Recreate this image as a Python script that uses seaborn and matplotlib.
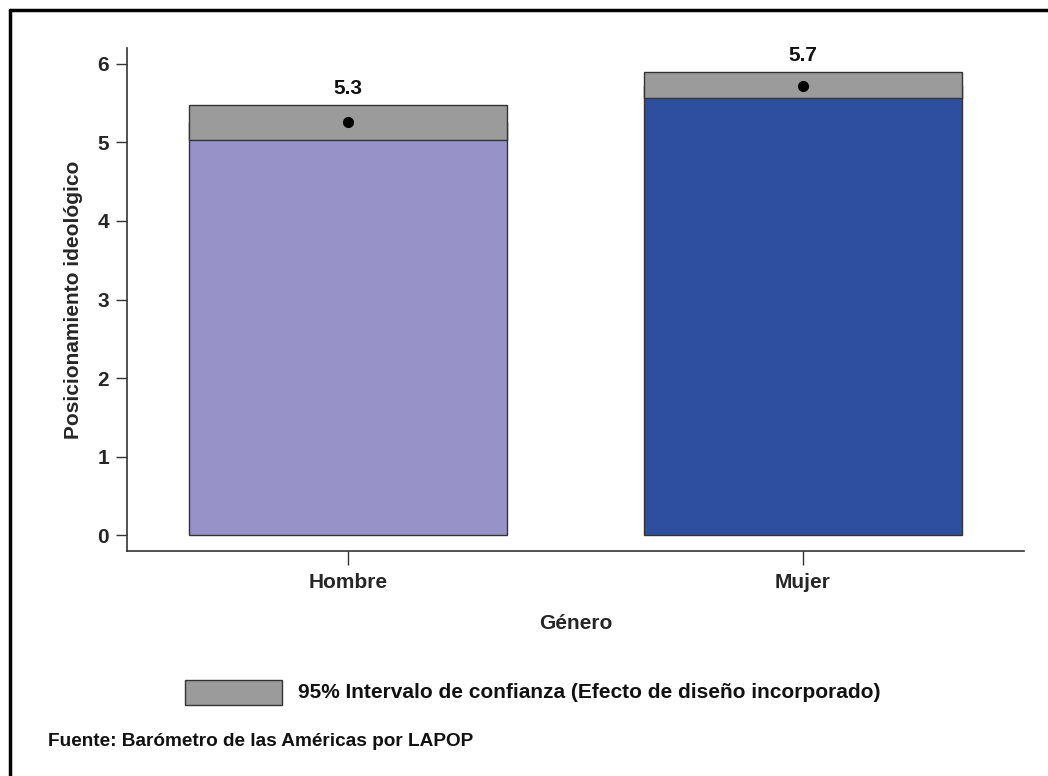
import matplotlib
matplotlib.use("Agg")
import matplotlib.pyplot as plt
import seaborn as sns
import pandas as pd
from matplotlib.patches import Rectangle
from matplotlib.lines import Line2D

# Data
categories = ["Hombre", "Mujer"]
means = [5.26, 5.72]
ci_low = [5.03, 5.56]
ci_high = [5.48, 5.89]
value_labels = ["5.3", "5.7"]
bar_colors = ["#9793C8", "#2E4E9F"]

sns.set_theme(style="white")
plt.rcParams["font.family"] = ["Liberation Sans", "DejaVu Sans"]
plt.rcParams["font.weight"] = "bold"

FS = 15

fig = plt.figure(figsize=(10.48, 7.76), dpi=100)
ax = fig.add_axes([127/1048, 1-551/776, (1024-127)/1048, (551-48)/776])

df = pd.DataFrame({"Género": categories, "valor": means})
sns.barplot(data=df, x="Género", y="valor", hue="Género", palette=bar_colors,
            saturation=1, width=0.7, edgecolor="#333333", linewidth=1.0,
            legend=False, ax=ax, errorbar=None)

for i in range(len(categories)):
    ax.add_patch(Rectangle((i - 0.35, ci_low[i]), 0.7, ci_high[i] - ci_low[i],
                           facecolor="#9B9B9B", edgecolor="#333333", linewidth=1.0, zorder=3))
    ax.plot([i], [means[i]], "o", color="black", markersize=7, zorder=4)
    ax.annotate(value_labels[i], (i, ci_high[i]), xytext=(0, 5), textcoords="offset points",
                ha="center", va="bottom", fontsize=FS, fontweight="bold", color="#111111")

ax.set_xlim(-0.486, 1.486)
ax.set_ylim(-0.2, 6.2)
ax.set_yticks(range(0, 7))
ax.set_ylabel("Posicionamiento ideológico", fontsize=FS, fontweight="bold", labelpad=10)
ax.set_xlabel("Género", fontsize=FS, fontweight="bold", labelpad=16)
for s in ["top", "right"]:
    ax.spines[s].set_visible(False)
for s in ["left", "bottom"]:
    ax.spines[s].set_color("#333333")
    ax.spines[s].set_linewidth(1.2)
ax.tick_params(axis="both", which="both", direction="out", length=8, width=1.0,
               color="#333333", labelsize=FS, pad=5)
ax.tick_params(axis="x", length=10, pad=6)
ax.tick_params(left=True, bottom=True)
for lbl in ax.get_xticklabels() + ax.get_yticklabels():
    lbl.set_fontweight("bold")

# Legend
fig.patches.append(Rectangle((185/1048, 1-705/776), 97/1048, 25/776, transform=fig.transFigure,
                             facecolor="#9B9B9B", edgecolor="#333333", linewidth=1.0))
fig.text(298/1048, 1-693/776, "95% Intervalo de confianza (Efecto de diseño incorporado)",
         fontsize=FS, fontweight="bold", va="center", ha="left", color="#111111")
fig.text(48/1048, 1-741/776, "Fuente: Barómetro de las Américas por LAPOP",
         fontsize=13.7, fontweight="bold", va="center", ha="left", color="#111111")

# Outer frame (left and top)
fig.lines.append(Line2D([10/1048, 10/1048], [0, 1-10/776], transform=fig.transFigure,
                        color="black", linewidth=2.5))
fig.lines.append(Line2D([10/1048, 1], [1-10/776, 1-10/776], transform=fig.transFigure,
                        color="black", linewidth=2.5))

fig.savefig("out.png", dpi=100)
